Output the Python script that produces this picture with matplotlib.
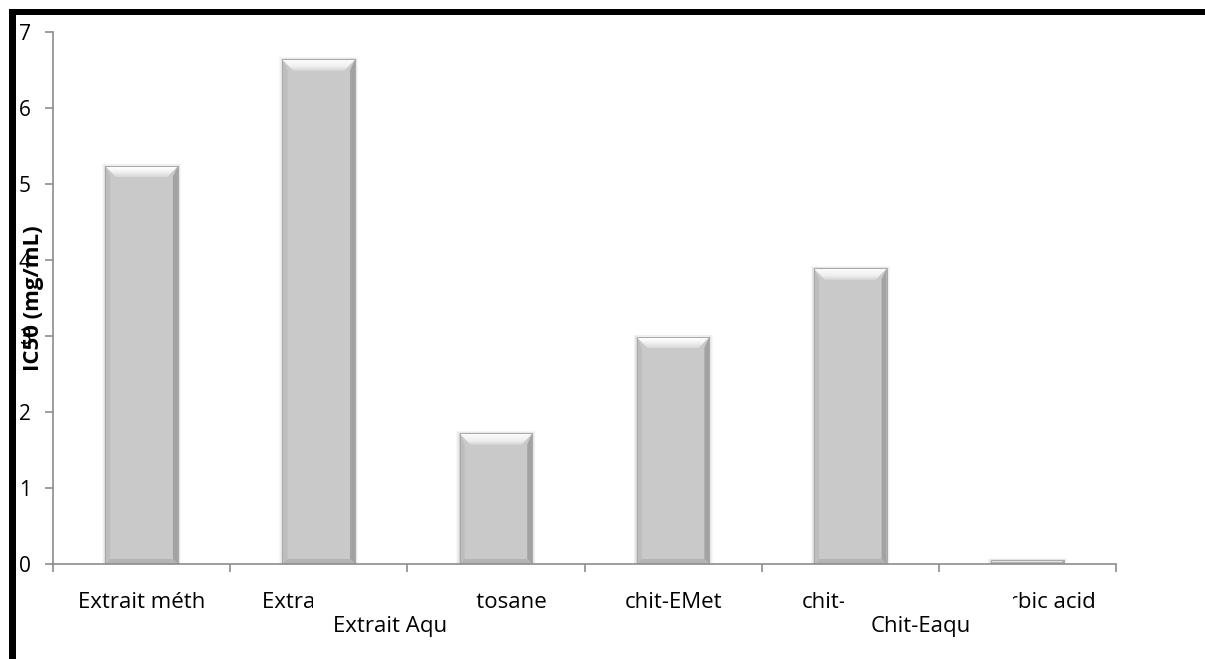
import matplotlib
matplotlib.use("Agg")
import matplotlib.pyplot as plt
from matplotlib.patches import Rectangle, Polygon
import numpy as np

plt.rcParams['font.family'] = ['Open Sans', 'DejaVu Sans']

# IC50 par echantillon
categories = ["Extrait méth", "Extrait Aqu", "Chitosane", "chit-EMet", "chit-Eaqu", "Ascorbic acid"]
ic50 = [5.24, 6.64, 1.72, 2.99, 3.89, 0.05]
# etiquettes decalees sur une deuxieme ligne (index de la categorie, texte)
stagger_idx = [1, 4]
stagger_txt = ["Extrait Aqu", "Chit-Eaqu"]

GRIS_AXE = '#8c8c8c'
TAILLE = 16

fig = plt.figure(figsize=(12.05, 6.59), dpi=100)
ax = fig.add_axes([53 / 1205, 1 - 564 / 659, 1063 / 1205, 532 / 659])

x = np.arange(len(categories))
ax.set_xlim(-0.5, len(categories) - 0.5)
ax.set_ylim(0, 7)

# taille d'un pixel en unites de donnees
px_x = 1.0 / (ax.transData.transform((1, 0))[0] - ax.transData.transform((0, 0))[0])
px_y = 1.0 / (ax.transData.transform((0, 1))[1] - ax.transData.transform((0, 0))[1])

largeur = 0.41


def barre_biseau(ax, xc, h, w, b_px=11):
    """barre grise avec un biseau sur les quatre cotes"""
    x0, x1 = xc - w / 2, xc + w / 2
    # ombre douce autour de la barre
    for k in range(1, 5):
        ax.add_patch(Rectangle((x0 - k * px_x * 0.8, 0), w + 2 * k * px_x * 0.8,
                               h + k * px_y * 0.5, facecolor='black',
                               alpha=0.03, edgecolor='none', zorder=1))
    ax.add_patch(Rectangle((x0, 0), w, h, facecolor='#c9c9c9',
                           edgecolor='none', zorder=2))
    hp = h / px_y
    b = min(b_px, hp / 2.0)
    bs = min(5, hp / 2.0)
    bx, by = b * px_x, b * px_y
    sx = bs * px_x
    # biseau du haut, degrade du blanc vers le gris
    n = 10
    for k in range(n):
        f0, f1 = k / n, (k + 1) / n
        c = 1.0 - 0.16 * f0 ** 2
        ax.add_patch(Polygon([(x0 + bx * f0, h - by * f0), (x1 - bx * f0, h - by * f0),
                              (x1 - bx * f1, h - by * f1), (x0 + bx * f1, h - by * f1)],
                             closed=True, facecolor=(c, c, c), edgecolor=(c, c, c),
                             linewidth=0.3, zorder=3))
    faces = [
        ([(x0, 0), (x0 + sx, sx * px_y / px_x), (x0 + sx, h - by), (x0, h)], '#bdbdbd'),
        ([(x1, 0), (x1, h), (x1 - sx, h - by), (x1 - sx, sx * px_y / px_x)], '#a2a2a2'),
        ([(x0, 0), (x1, 0), (x1 - sx, bs * px_y), (x0 + sx, bs * px_y)], '#b4b4b4'),
    ]
    for pts, c in faces:
        ax.add_patch(Polygon(pts, closed=True, facecolor=c, edgecolor='none', zorder=3))
    ax.add_patch(Rectangle((x0, 0), w, h, facecolor='none',
                           edgecolor='#a8a8a8', linewidth=0.7, zorder=3.2))


for xi, v in zip(x, ic50):
    barre_biseau(ax, xi, v, largeur)

# axes
for s in ['top', 'right']:
    ax.spines[s].set_visible(False)
for s in ['left', 'bottom']:
    ax.spines[s].set_color(GRIS_AXE)
    ax.spines[s].set_linewidth(1.2)
    ax.spines[s].set_zorder(4)

ax.set_yticks(range(0, 8))
ax.tick_params(axis='y', direction='out', length=6, width=1.2, color=GRIS_AXE,
               labelsize=15, pad=10, labelcolor='black')

# graduations entre les categories, etiquettes au centre
ax.set_xticks(np.arange(-0.5, len(categories)), [])
ax.set_xticks(x, categories, minor=True)
ax.tick_params(axis='x', which='major', direction='out', length=6, width=1.2, color=GRIS_AXE)
ax.tick_params(axis='x', which='minor', length=0, labelsize=TAILLE, pad=20)

# deuxieme ligne d'etiquettes, qui recouvre une partie de la premiere
trans = ax.get_xaxis_transform()
cache_droite = [0.89, 0.92]
for i, t, d in zip(stagger_idx, stagger_txt, cache_droite):
    ax.add_patch(Rectangle((i - 0.035, -0.1), d + 0.035, 0.058, transform=trans,
                           facecolor='white', edgecolor='none', clip_on=False, zorder=5))
    ax.text(i + 0.4, -0.118, t, transform=trans, ha='center', va='center',
            fontsize=TAILLE, clip_on=False, zorder=6)

ax.set_ylabel("IC50 (mg/mL)", fontsize=16, fontweight='bold')
ax.yaxis.label.set_verticalalignment('center')
ax.yaxis.set_label_coords(-0.0188, 0.5)

# cadre noir en haut et a gauche
fig.add_artist(Rectangle((9 / 1205, 1 - 15 / 659), 1 - 9 / 1205, 6 / 659,
                         transform=fig.transFigure, facecolor='black', edgecolor='none'))
fig.add_artist(Rectangle((9 / 1205, 0), 7 / 1205, 1 - 9 / 659,
                         transform=fig.transFigure, facecolor='black', edgecolor='none'))

fig.savefig("out.png", dpi=100)
